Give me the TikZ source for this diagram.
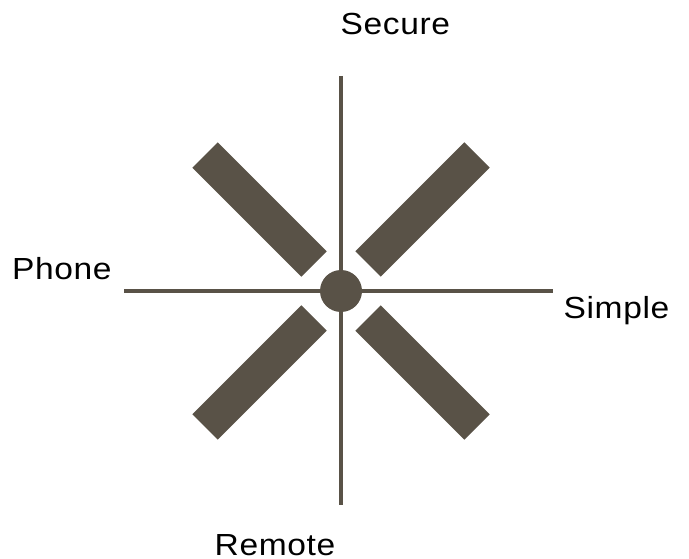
\documentclass[tikz,border=0pt]{standalone}
\usepackage{fontspec}
\setmainfont{Liberation Sans}[FakeStretch=1.1,LetterSpace=2]
\usetikzlibrary{positioning}
\definecolor{bark}{HTML}{595247}

\begin{document}
\begin{tikzpicture}[x=1pt,y=-1pt,
  axis/.style={draw=bark,line width=4pt},
  blade/.style={draw=bark,line width=36pt},
  hubdot/.style={circle,fill=bark,minimum size=42pt,inner sep=0pt},
  lbl/.style={inner sep=0pt,anchor=base west,font=\fontsize{30.5}{36}\selectfont}
]
\useasboundingbox (0,0) rectangle (689,559);
\coordinate (c) at (341,291);
\coordinate (top) at (341,76);
\coordinate (bottom) at (341,505);
\coordinate (left) at (124,291);
\coordinate (right) at (553,291);
\draw[axis] (top) -- (bottom);
\draw[axis] (left) -- (right);
\foreach \sx/\sy in {-1/-1,1/-1,-1/1,1/1}
  \draw[blade] ([shift={(\sx*27,\sy*27)}]c) -- ([shift={(\sx*136,\sy*136)}]c);
\node[hubdot] (hub) at (c) {};
\node[lbl] (secure) at (340.5,35) {Secure};
\node[lbl] (phone) at (12,279.5) {Phone};
\node[lbl] (simple) at (563.5,319) {Simple};
\node[lbl] (remote) at (214.5,555) {Remote};
\end{tikzpicture}
\end{document}
